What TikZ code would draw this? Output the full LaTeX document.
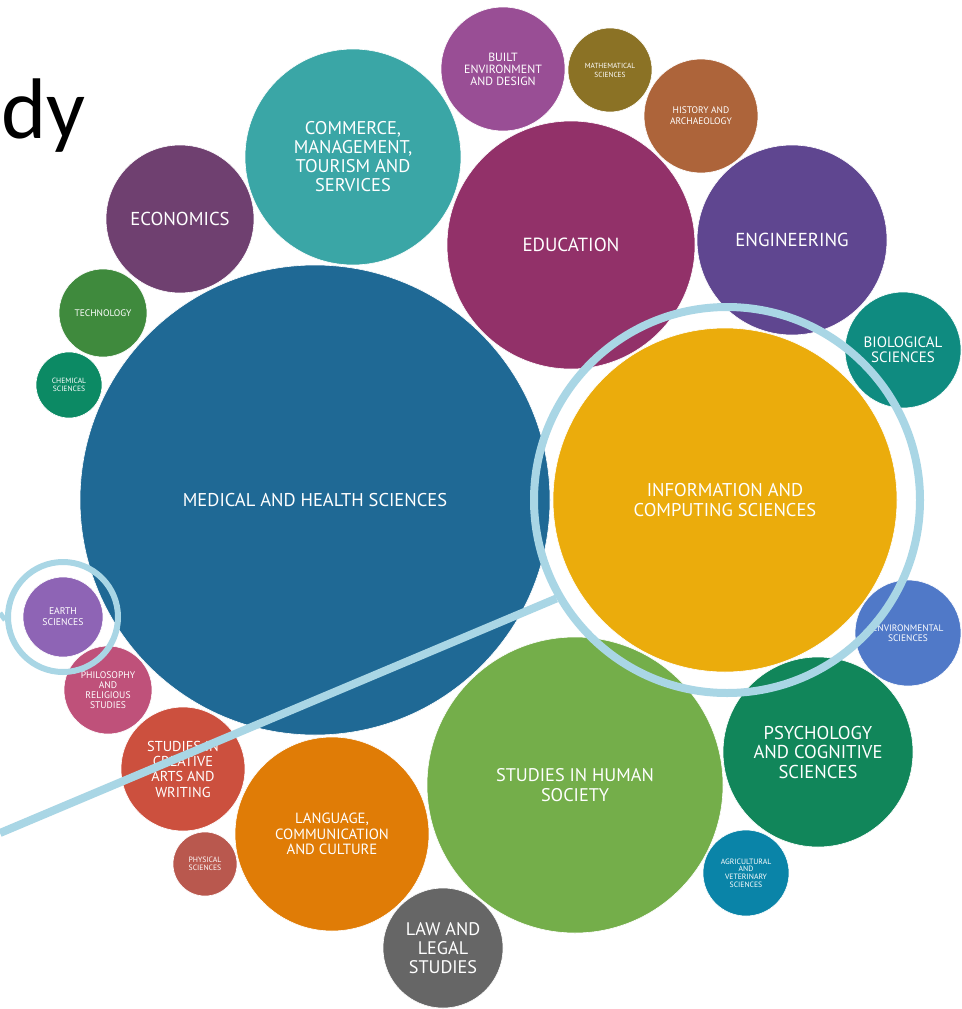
\documentclass[tikz,border=0pt]{standalone}
\usepackage{fontspec}
\setmainfont{PT Sans}
\newfontfamily\dyfont{Carlito}
\definecolor{cMed}{HTML}{1F6995}
\definecolor{cInf}{HTML}{EBAC0C}
\definecolor{cHum}{HTML}{74AE4A}
\definecolor{cEdu}{HTML}{923169}
\definecolor{cCom}{HTML}{3AA6A6}
\definecolor{cEng}{HTML}{5F4690}
\definecolor{cEco}{HTML}{6F4070}
\definecolor{cPsy}{HTML}{11865A}
\definecolor{cLan}{HTML}{E07C06}
\definecolor{cLaw}{HTML}{666666}
\definecolor{cArt}{HTML}{CC503E}
\definecolor{cBio}{HTML}{0F8B80}
\definecolor{cEnv}{HTML}{5079C8}
\definecolor{cBui}{HTML}{994E95}
\definecolor{cHis}{HTML}{AD643A}
\definecolor{cMat}{HTML}{8B7225}
\definecolor{cTec}{HTML}{3F8A3D}
\definecolor{cChe}{HTML}{0C8A64}
\definecolor{cEar}{HTML}{8E64B5}
\definecolor{cPhi}{HTML}{BF517A}
\definecolor{cPhy}{HTML}{B9584E}
\definecolor{cAgr}{HTML}{0A84A8}
\definecolor{cRing}{HTML}{A9D6E5}
\newcommand{\fsz}[2]{\fontsize{#1}{#2}\selectfont}
\tikzset{
  bub/.style={circle, inner sep=0pt, text=white, align=center, draw=white, line width=0.6pt},
  ringstyle/.style={circle, inner sep=0pt, draw=cRing, fill=none},
  link/.style={draw=cRing, line cap=butt}
}
\begin{document}
\begin{tikzpicture}[x=1pt,y=-1pt]
\useasboundingbox (0,0) rectangle (961,1009);
\fill[white] (0,0) rectangle (961,1009);
\node[anchor=base east, inner sep=0pt, font=\dyfont\fontsize{86}{96}\selectfont] (title) at (86,138) {dy};
% bubbles
\node[bub, fill=cMed, minimum size=470pt, font=\fsz{18.5}{21}] (med) at (315,500) {MEDICAL AND HEALTH SCIENCES};
\node[bub, fill=cInf, minimum size=344pt, font=\fsz{18.5}{20}] (inf) at (725,500) {INFORMATION AND\\COMPUTING SCIENCES};
\node[bub, fill=cHum, minimum size=296pt, font=\fsz{18.3}{20}] (hum) at (575,785) {STUDIES IN HUMAN\\SOCIETY};
\node[bub, fill=cEdu, minimum size=248pt, font=\fsz{19}{20}] (edu) at (571,245) {EDUCATION};
\node[bub, fill=cCom, minimum size=216pt, font=\fsz{18.4}{19}] (com) at (353,157) {COMMERCE,\\MANAGEMENT,\\TOURISM AND\\SERVICES};
\node[bub, fill=cEng, minimum size=190pt, font=\fsz{18.8}{20}] (eng) at (792,240) {ENGINEERING};
\node[bub, fill=cEco, minimum size=148pt, font=\fsz{18.7}{20}] (eco) at (180,219) {ECONOMICS};
\node[bub, fill=cPsy, minimum size=190pt, font=\fsz{18.6}{19.5}] (psy) at (818,752) {PSYCHOLOGY\\AND COGNITIVE\\SCIENCES};
\node[bub, fill=cLan, minimum size=194pt, font=\fsz{14.8}{15.5}] (lan) at (332,834) {LANGUAGE,\\COMMUNICATION\\AND CULTURE};
\node[bub, fill=cLaw, minimum size=120pt, font=\fsz{18.2}{19}] (law) at (443,948) {LAW AND\\LEGAL\\STUDIES};
\node[bub, fill=cArt, minimum size=124pt, font=\fsz{14.4}{15.3}] (art) at (183,769) {STUDIES IN\\CREATIVE\\ARTS AND\\WRITING};
\node[bub, fill=cBio, minimum size=116pt, font=\fsz{15}{15}] (bio) at (903,350) {BIOLOGICAL\\SCIENCES};
\node[bub, fill=cEnv, minimum size=106pt, font=\fsz{9.4}{10}] (env) at (908,633) {ENVIRONMENTAL\\SCIENCES};
\node[bub, fill=cBui, minimum size=124pt, font=\fsz{11.9}{12}] (bui) at (503,69) {BUILT\\ENVIRONMENT\\AND DESIGN};
\node[bub, fill=cHis, minimum size=114pt, font=\fsz{9.5}{11}] (his) at (701,116) {HISTORY AND\\ARCHAEOLOGY};
\node[bub, fill=cMat, minimum size=84pt, font=\fsz{7.35}{9}] (mat) at (610,70) {MATHEMATICAL\\SCIENCES};
\node[bub, fill=cTec, minimum size=88pt, font=\fsz{9.5}{10}] (tec) at (103,313) {TECHNOLOGY};
\node[bub, fill=cChe, minimum size=66pt, font=\fsz{7.6}{8}] (che) at (69,385) {CHEMICAL\\SCIENCES};
\node[bub, fill=cEar, minimum size=80pt, font=\fsz{9.7}{11}] (ear) at (63,617) {EARTH\\SCIENCES};
\node[bub, fill=cPhi, minimum size=88pt, font=\fsz{9.6}{10}] (phi) at (108,690) {PHILOSOPHY\\AND\\RELIGIOUS\\STUDIES};
\node[bub, fill=cPhy, minimum size=64pt, font=\fsz{7.7}{8}] (phy) at (205,864) {PHYSICAL\\SCIENCES};
\node[bub, fill=cAgr, minimum size=86pt, font=\fsz{7.7}{7.7}] (agr) at (746,873) {AGRICULTURAL\\AND\\VETERINARY\\SCIENCES};
% highlight rings and connectors
\node[ringstyle, line width=8pt, minimum size=386pt] (infring) at (727,500) {};
\node[ringstyle, line width=6pt, minimum size=110pt] (earring) at (63,617) {};
\coordinate (lineL) at (0,833);
\coordinate (stubL) at (0,613);
\draw[link, line width=8pt] (lineL) -- (infring.210);
\draw[link, line width=5pt] (stubL) -- (earring.183);
\end{tikzpicture}
\end{document}
